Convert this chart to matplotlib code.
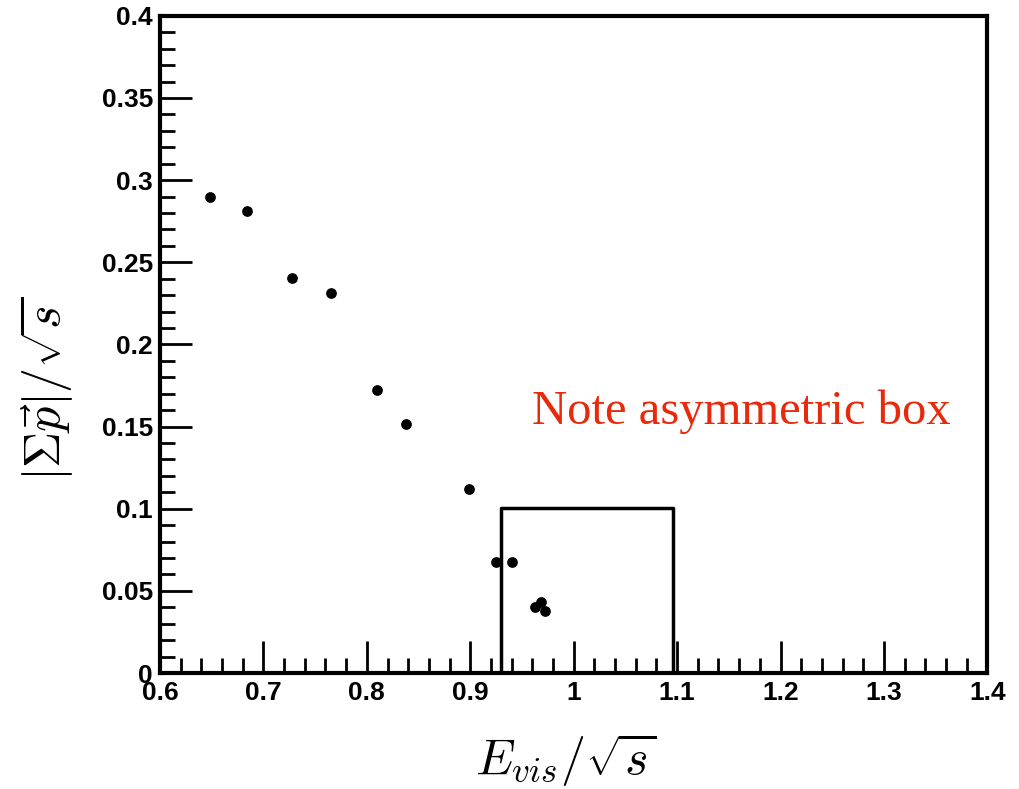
import matplotlib.pyplot as plt
from matplotlib.ticker import MultipleLocator, FuncFormatter

# data
evis = [0.648, 0.684, 0.728, 0.765, 0.810, 0.838, 0.899, 0.925, 0.940, 0.963, 0.968, 0.972]
psum = [0.290, 0.281, 0.2405, 0.231, 0.172, 0.1516, 0.112, 0.0676, 0.0676, 0.040, 0.043, 0.038]

# selection box edges
box_lo, box_hi, box_top = 0.930, 1.096, 0.1005

plt.rcParams['mathtext.fontset'] = 'cm'

fig = plt.figure(figsize=(10.19, 7.89), dpi=100)
ax = fig.add_axes([0.157, 0.147, 0.812, 0.833])

ax.scatter(evis, psum, s=45, color='black', zorder=3)
ax.plot([box_lo, box_lo, box_hi, box_hi], [0, box_top, box_top, 0], color='black', lw=2.5)

ax.set_xlim(0.6, 1.4)
ax.set_ylim(0, 0.4)
ax.xaxis.set_major_locator(MultipleLocator(0.1))
ax.xaxis.set_minor_locator(MultipleLocator(0.02))
ax.yaxis.set_major_locator(MultipleLocator(0.05))
ax.yaxis.set_minor_locator(MultipleLocator(0.01))
fmt = FuncFormatter(lambda v, p: ('%g' % round(v, 3)))
ax.xaxis.set_major_formatter(fmt)
ax.yaxis.set_major_formatter(fmt)

ax.tick_params(which='both', direction='in', top=False, right=False, width=2)
ax.tick_params(which='major', length=23, labelsize=19)
ax.tick_params(axis='x', which='major', pad=6)
ax.tick_params(axis='y', which='major', pad=5)
ax.tick_params(which='minor', length=11)
for lab in ax.get_xticklabels() + ax.get_yticklabels():
    lab.set_fontweight('bold')
    lab.set_family('Liberation Sans')
for sp in ax.spines.values():
    sp.set_linewidth(3)

fig.text(0.555, 0.037, r'$E_{vis}/\sqrt{s}$', fontsize=36, ha='center', va='center')
fig.text(0.045, 0.507, r'$|\Sigma\vec{p}|/\sqrt{s}$', fontsize=36, ha='center', va='center', rotation=90)

ax.text(0.96, 0.159, 'Note asymmetric box', color='#e8290b', fontsize=35,
        family='Liberation Serif', ha='left', va='center')

fig.savefig('out.png', dpi=100)
